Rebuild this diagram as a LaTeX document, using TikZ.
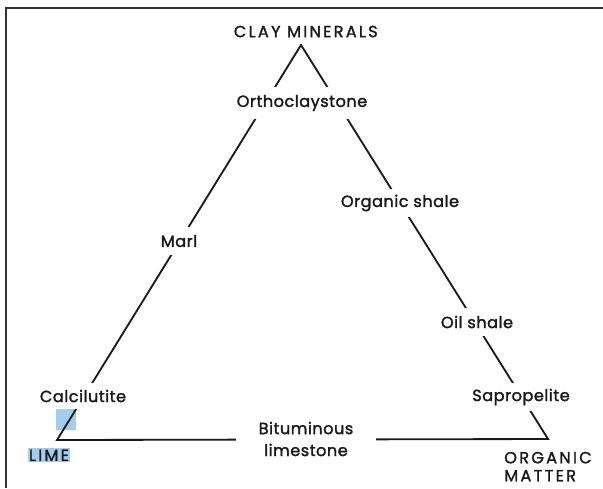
\documentclass[tikz,border=0pt]{standalone}
\usepackage{fontspec}
\setmainfont{Poppins}
\newfontfamily\lblfont{Poppins}[FakeBold=1.6]
\usepackage{xcolor}
\usetikzlibrary{positioning}
\definecolor{selblue}{RGB}{165,205,235}
\definecolor{inkgray}{RGB}{25,25,25}

\begin{document}
\begin{tikzpicture}[
      x=0.025cm, y=-0.025cm,
      font=\lblfont\fontsize{11.5}{15.6}\selectfont\addfontfeature{LetterSpace=3},
      side/.style={draw=inkgray, line width=1.3pt},
      mid/.style={fill=white, inner xsep=2pt, minimum height=0.7cm, text=inkgray},
      corner/.style={inner sep=1pt, align=left, text=inkgray, font=\lblfont\fontsize{11.5}{12.8}\selectfont\addfontfeature{LetterSpace=14}},
      frame/.style={draw=black!80, line width=1.2pt}
    ]
    \useasboundingbox (0,0) rectangle (603,488);
    %% frame, top and left edge
    \draw[frame] (603,8) -- (6,8) -- (6,488);
    %% corners of the triangle
    \coordinate (clay) at (301,45);
    \coordinate (lime) at (57,440);
    \coordinate (organic) at (548,439);
    \fill[selblue] (56,408) rectangle (76,430);
    \draw[side] (lime) -- (clay) -- (organic) -- cycle;
    %% names along the sides
    \node[mid, minimum height=0.78cm] (ortho) at (302,103) {Orthoclaystone};
    \node[mid] (marl) at (179,241) {Marl};
    \node[mid, minimum height=0.65cm] (calc) at (83,396) {Calcilutite};
    \node[mid] (oshale) at (400,203) {Organic shale};
    \node[mid] (oil) at (477,322) {Oil shale};
    \node[mid] (sapro) at (521,397) {Sapropelite};
    \node[mid, minimum width=3.5cm, align=center] (bitu) at (306,439) {Bituminous\\limestone};
    %% end members
    \node[corner, above=1.5mm of clay, xshift=1.2mm] (claylbl) {CLAY MINERALS};
    \node[corner, below=2mm of lime, xshift=-2mm, fill=selblue] (limelbl) {LIME};
    \node[corner, below=2.8mm of organic] (orglbl) {ORGANIC\\MATTER};
  \end{tikzpicture}
\end{document}
